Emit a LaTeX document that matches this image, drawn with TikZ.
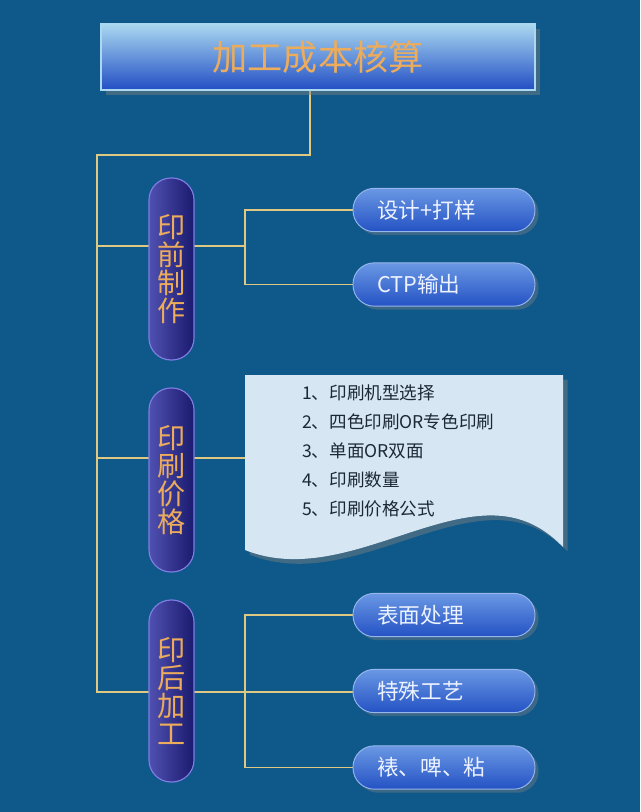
\documentclass[tikz,border=0pt]{standalone}
\usepackage{fontspec}
\setmainfont{Noto Sans CJK SC}
\usetikzlibrary{shadows}
\definecolor{bgBlue}{RGB}{14,88,138}
\definecolor{linkGold}{RGB}{222,200,130}
\definecolor{titleTop}{RGB}{170,216,240}
\definecolor{titleMid}{RGB}{58,116,216}
\definecolor{titleBot}{RGB}{34,78,196}
\definecolor{titleText}{RGB}{236,172,92}
\definecolor{stageLeft}{RGB}{80,80,178}
\definecolor{stageRight}{RGB}{26,26,110}
\definecolor{stageRim}{RGB}{126,126,226}
\definecolor{itemTop}{RGB}{106,152,228}
\definecolor{itemBot}{RGB}{36,82,196}
\definecolor{itemText}{RGB}{236,242,255}
\definecolor{pageFill}{RGB}{214,230,242}
\definecolor{pageText}{RGB}{28,40,56}
\pgfdeclarelayer{canvas}
\pgfdeclarelayer{wires}
\pgfsetlayers{canvas,wires,main}

\begin{document}
\begin{tikzpicture}[x=0.03cm,y=-0.03cm,
  titlebox/.style={draw=titleTop, line width=1pt, top color=titleTop, middle color=titleMid,
    bottom color=titleBot, minimum width=13.02cm, minimum height=1.98cm,
    text=titleText, font=\fontsize{30}{32}\selectfont,
    drop shadow={opacity=.45, shadow xshift=4pt, shadow yshift=-4pt}},
  stage/.style={draw=stageRim, line width=1pt, left color=stageLeft, right color=stageRight,
    rounded corners=0.66cm, minimum width=1.35cm, inner sep=0pt, align=center,
    text=titleText, font=\fontsize{24}{24}\selectfont},
  item/.style={draw=itemTop!70, line width=.8pt, top color=itemTop, bottom color=itemBot,
    rounded corners=0.64cm, minimum height=1.3cm, text width=4.02cm, inner xsep=0.72cm,
    align=left, text=itemText, font=\fontsize{18.5}{20}\selectfont,
    drop shadow={opacity=.4, shadow xshift=3pt, shadow yshift=-3pt}},
  link/.style={draw=linkGold, line width=1.2pt}]

  \begin{pgfonlayer}{canvas}
    \fill[bgBlue] (0,0) rectangle (640,812);
  \end{pgfonlayer}

  % Title
  \node[titlebox] (title) at (318,57) {加工成本核算};

  % Stages
  \node[stage, minimum height=5.46cm] (pre) at (171.5,269) {印\\前\\制\\作};
  \node[stage, minimum height=5.52cm] (press) at (171.5,480) {印\\刷\\价\\格};
  \node[stage, minimum height=5.46cm] (post) at (171.5,691) {印\\后\\加\\工};

  % Items
  \node[item] (design) at (444,210) {设计+打样};
  \node[item] (ctp) at (444,284.5) {CTP输出};
  \node[item] (surface) at (444,615) {表面处理};
  \node[item] (special) at (444,691) {特殊工艺};
  \node[item] (mount) at (444,767.5) {裱、啤、粘};

  % Price sheet
  \fill[pageFill, drop shadow={opacity=.45, shadow xshift=4pt, shadow yshift=-4pt}]
    (245,375) -- (563,375) -- (563,547)
    .. controls (535,518) and (505,512) .. (470,517)
    .. controls (400,527) and (320,580) .. (245,550) -- cycle;
  \node[anchor=west, align=left, text=pageText, font=\fontsize{15}{24.6}\selectfont]
    (list) at (298,451) {1、印刷机型选择\\2、四色印刷OR专色印刷\\3、单面OR双面\\4、印刷数量\\5、印刷价格公式};

  % Connectors
  \coordinate (top) at (310,155);
  \coordinate (trunk) at (97,155);
  \coordinate (j1) at (245,246);
  \coordinate (j2) at (245,458);
  \coordinate (j3) at (245,692);
  \begin{pgfonlayer}{wires}
    \draw[link] (title.south -| top) -- (top) -- (trunk) |- (j3);
    \draw[link] (trunk |- j1) -- (j1);
    \draw[link] (design.west) -| (j1) |- (ctp.west);
    \draw[link] (trunk |- j2) -- (j2);
    \draw[link] (surface.west) -| (j3) |- (mount.west);
    \draw[link] (j3) -- (j3 -| special.west);
  \end{pgfonlayer}
\end{tikzpicture}
\end{document}
